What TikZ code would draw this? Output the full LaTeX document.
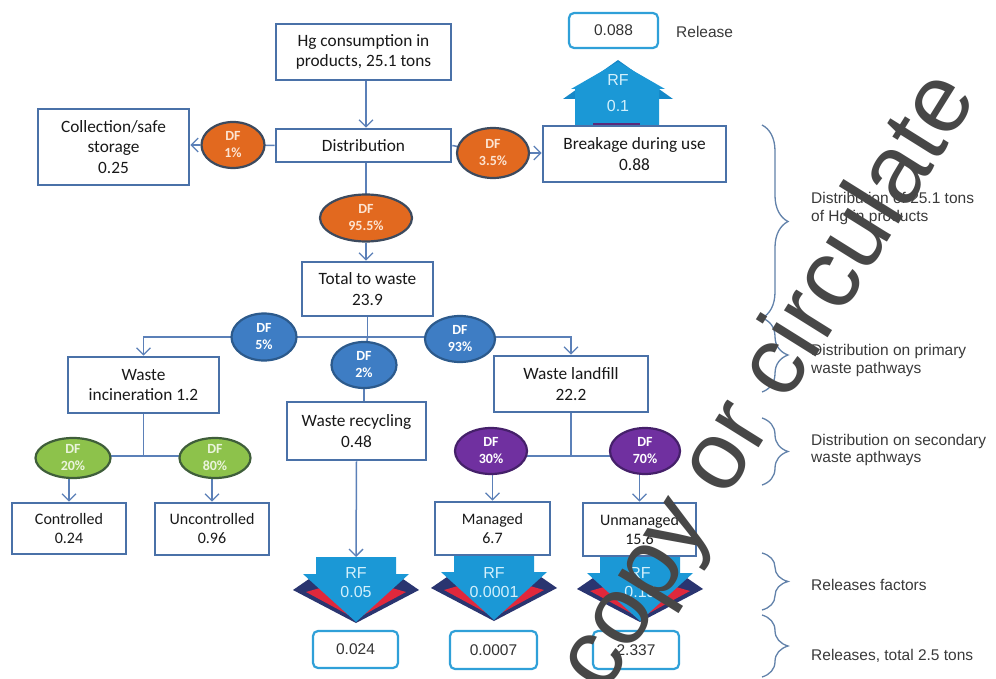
\documentclass[tikz,border=0pt]{standalone}
\usepackage{fontspec}
\setmainfont{Carlito}
\newfontfamily\arialf{Liberation Sans}
\usetikzlibrary{arrows.meta,shapes.geometric,decorations.pathreplacing,calc}
\pgfdeclarelayer{bg}
\pgfdeclarelayer{fg}
\pgfsetlayers{bg,main,fg}

\definecolor{boxline}{HTML}{4A71A8}
\definecolor{conn}{HTML}{5B80B8}
\definecolor{relline}{HTML}{2FA0D8}
\definecolor{rfblue}{HTML}{1B98D6}
\definecolor{rfback}{HTML}{1688C8}
\definecolor{rftext}{HTML}{D2F0FC}
\definecolor{shnavy}{HTML}{2A3570}
\definecolor{shred}{HTML}{E0283C}
\definecolor{upbar}{HTML}{5A2A7A}
\definecolor{orfill}{HTML}{E2691F}
\definecolor{orline}{HTML}{3C4A5E}
\definecolor{ortext}{HTML}{FCE4D2}
\definecolor{blfill}{HTML}{3E7DC4}
\definecolor{blline}{HTML}{2C5A8C}
\definecolor{grfill}{HTML}{8DC24B}
\definecolor{grline}{HTML}{3F5E3A}
\definecolor{grtext}{HTML}{EAF4DC}
\definecolor{pufill}{HTML}{7030A0}
\definecolor{puline}{HTML}{45206A}
\definecolor{bracec}{HTML}{6282AA}
\definecolor{labelc}{HTML}{3A3A3A}
\definecolor{markc}{HTML}{474747}

\tikzset{
  box/.style={draw=boxline, line width=2.6pt, fill=white, align=center, inner sep=0pt,
    text=black!90, font=\fontsize{17.3}{20.5}\selectfont},
  smallbox/.style={box, font=\fontsize{16}{19}\selectfont},
  relbox/.style={draw=relline, line width=2.2pt, rounded corners=5pt, fill=white,
    inner sep=0pt, text=black!80, font=\arialf\fontsize{15.5}{18}\selectfont},
  df/.style={ellipse, line width=2.2pt, inner sep=0pt, align=center,
    font=\bfseries\fontsize{14}{17}\selectfont},
  dfor/.style={df, fill=orfill, draw=orline, text=ortext},
  dfbl/.style={df, fill=blfill, draw=blline, text=white},
  dfgr/.style={df, fill=grfill, draw=grline, text=grtext},
  dfpu/.style={df, fill=pufill, draw=puline, text=white},
  link/.style={draw=conn, line width=1.5pt},
  flow/.style={link, -{Straight Barb[length=7pt,width=14pt,line width=1.3pt]}},
  sidebrace/.style={draw=bracec, line width=1.3pt, decorate,
    decoration={brace, amplitude=26pt}},
  sidelabel/.style={anchor=west, align=left, inner sep=0pt, text=labelc,
    font=\arialf\fontsize{15.5}{17.5}\selectfont},
  rftxt/.style={align=center, inner sep=0pt, text=rftext,
    font=\arialf\fontsize{16}{19}\selectfont},
}

% downward release-factor arrow, origin at the middle of the shaft top
\newcommand\rfdown[2]{%
  \begin{scope}[shift={(#1,#2)}]
    \fill[shnavy] (-63,33) -- (-47,22) -- (0,40) -- (47,22) -- (63,33) -- (0,66) -- cycle;
    \fill[shred] (-50,35) -- (-36,31) -- (0,58) -- (36,31) -- (50,35) -- (0,62) -- cycle;
    \fill[rfblue] (-40,0) -- (40,0) -- (40,17) -- (53,17) -- (0,65) -- (-53,17) -- (-40,17) -- cycle;
  \end{scope}}

\begin{document}
\begin{tikzpicture}[x=1pt,y=-1pt]
\useasboundingbox (0,0) rectangle (996,679);
\begin{pgfonlayer}{bg}
  \fill[white] (0,0) rectangle (996,679);
\end{pgfonlayer}

% release-factor arrows
\fill[rfback] (563,99) -- (618,60) -- (673,99) -- cycle;
\fill[rfblue] (575,126) -- (575,89) -- (571,89) -- (618,62) -- (665,89) -- (659,89) -- (659,126) -- cycle;
\fill[upbar] (593,123) rectangle (640,126);
\rfdown{356}{557}
\rfdown{494}{555}
\rfdown{640}{556}

% boxes
\node[box, minimum width=175pt, minimum height=56pt] (top) at (363.5,52) {Hg consumption in\\products, 25.1 tons};
\node[box, minimum width=175pt, minimum height=33pt] (dist) at (363.5,145.5) {Distribution};
\node[box, minimum width=151pt, minimum height=76pt] (coll) at (113.5,147) {Collection/safe\\storage\\0.25};
\node[box, minimum width=183pt, minimum height=56pt] (brk) at (634.5,154) {Breakage during use\\0.88};
\node[box, minimum width=131pt, minimum height=54pt] (total) at (367.5,289) {Total to waste\\23.9};
\node[box, minimum width=151pt, minimum height=56pt] (incin) at (143.5,385) {Waste\\incineration 1.2};
\node[box, minimum width=139pt, minimum height=58pt] (recyc) at (356.5,431) {Waste recycling\\0.48};
\node[box, minimum width=154pt, minimum height=56pt] (land) at (571,384) {Waste landfill\\22.2};
\node[smallbox, minimum width=114pt, minimum height=51pt] (ctrl) at (69,528.5) {Controlled\\0.24};
\node[smallbox, minimum width=114pt, minimum height=52pt] (unctrl) at (212,529) {Uncontrolled\\0.96};
\node[smallbox, minimum width=115pt, minimum height=53pt] (mgd) at (492.5,528.5) {Managed\\6.7};
\node[smallbox, minimum width=113pt, minimum height=53pt] (umgd) at (639.5,529.5) {Unmanaged\\15.6};

% release boxes
\node[relbox, minimum width=89pt, minimum height=35pt] (r1) at (613.5,30.5) {0.088};
\node[relbox, minimum width=85pt, minimum height=37pt] (r2) at (355.5,649.5) {0.024};
\node[relbox, minimum width=87pt, minimum height=38pt] (r3) at (493.5,650) {0.0007};
\node[relbox, minimum width=86pt, minimum height=38pt] (r4) at (636,650) {2.337};
\node[anchor=west, inner sep=0pt, text=labelc, font=\arialf\fontsize{15.5}{18}\selectfont] (rel) at (676,32) {Release};

% release-factor labels
\node[rftxt, font=\arialf\fontsize{16}{26}\selectfont] (rf0) at (618,93.5) {RF\\0.1};
\node[rftxt] (rf1) at (356,582.5) {RF\\0.05};
\node[rftxt] (rf2) at (494,582.5) {RF\\0.0001};
\node[rftxt] (rf3) at (640,582.5) {RF\\0.15};
\coordinate (a1) at (356,557);

% distribution factors
\node[dfor, minimum width=63pt, minimum height=46pt] (df1) at (233,145) {DF\\1\%};
\node[dfor, minimum width=72pt, minimum height=50pt] (df35) at (493,153) {DF\\3.5\%};
\node[dfor, minimum width=92pt, minimum height=47pt] (df955) at (366,218) {DF\\95.5\%};
\node[dfbl, minimum width=65pt, minimum height=47pt] (df5) at (264,337) {DF\\5\%};
\node[dfbl, minimum width=65pt, minimum height=46pt] (df2) at (364,365) {DF\\2\%};
\node[dfbl, minimum width=70pt, minimum height=46pt] (df93) at (460,339) {DF\\93\%};
\node[dfgr, minimum width=75pt, minimum height=40pt] (df20) at (73,458) {DF\\20\%};
\node[dfgr, minimum width=71pt, minimum height=40pt] (df80) at (215,458) {DF\\80\%};
\node[dfpu, minimum width=72pt, minimum height=46pt] (df30) at (491,451) {DF\\30\%};
\node[dfpu, minimum width=70pt, minimum height=46pt] (df70) at (645,451) {DF\\70\%};

\coordinate (j1) at (367.5,337);
\coordinate (j2) at (143.5,456);
\coordinate (j3) at (571,456);

% connectors
\begin{pgfonlayer}{bg}
  \draw[flow] (df955 |- top.south) -- (df955 |- dist.north);
  \draw[link] (dist.west) -- (df1.center);
  \draw[flow] (df1.west) -- (df1.west -| coll.east);
  \draw[link] (dist.east) -- (df35.center);
  \draw[flow] (df35.east) -- (df35.east -| brk.west);
  \draw[link] (df955 |- dist.south) -- (df955.center);
  \draw[flow] (df955.south) -- (df955.south |- total.north);
  \draw[link] (total.south) -- (j1);
  \draw[flow] (j1) -| (incin.north);
  \draw[flow] (j1) -| (land.north);
  \draw[link] (j1) -- (df2.center);
  \draw[link] (df2.south) -- (df2.south |- recyc.north);
  \draw[flow] (recyc.south) -- (a1);
  \draw[link] (incin.south) -- (j2);
  \draw[link] (df20.center |- j2) -- (df80.center |- j2);
  \draw[flow] (ctrl.north |- df20.center) -- (ctrl.north);
  \draw[flow] (unctrl.north |- df80.center) -- (unctrl.north);
  \draw[link] (land.south) -- (j3);
  \draw[link] (df30.center |- j3) -- (df70.center |- j3);
  \draw[flow] (mgd.north |- df30.center) -- (mgd.north);
  \draw[flow] (umgd.north |- df70.center) -- (umgd.north);
\end{pgfonlayer}

% stage braces and captions
\draw[sidebrace] (762,125) -- (762,318);
\draw[sidebrace] (762,318) -- (762,392);
\draw[sidebrace] (762,418) -- (762,485);
\draw[sidebrace] (762,553) -- (762,610);
\draw[sidebrace] (762,615) -- (762,677);
\node[sidelabel] (l1) at (811,208.5) {Distribution of 25.1 tons\\of Hg in products};
\node[sidelabel] (l2) at (811,360.5) {Distribution on primary\\waste pathways};
\node[sidelabel] (l3) at (811,450) {Distribution on secondary\\waste apthways};
\node[sidelabel] (l4) at (811,585) {Releases factors};
\node[sidelabel] (l5) at (811,656) {Releases, total 2.5 tons};

% overprinted mark
\begin{pgfonlayer}{fg}
  \node[rotate=58, anchor=base west, inner sep=0pt, text=markc,
    font=\arialf\fontsize{97}{97}\selectfont] (mark) at (604,696) {copy or circulate};
\end{pgfonlayer}
\end{tikzpicture}
\end{document}
